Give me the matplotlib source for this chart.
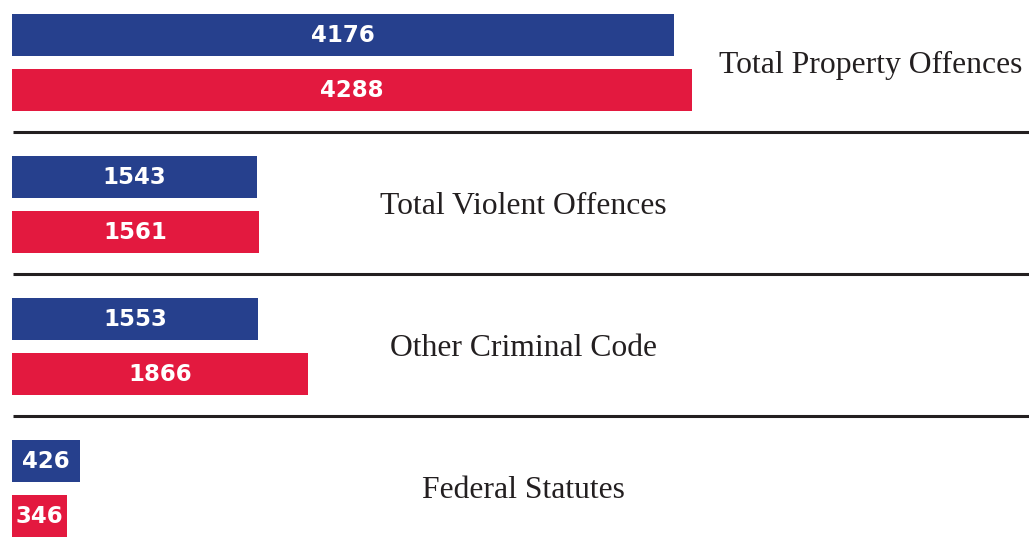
import matplotlib.pyplot as plt
from matplotlib.transforms import blended_transform_factory

categories = ["Total Property Offences", "Total Violent Offences",
              "Other Criminal Code", "Federal Statutes"]
blue_values = [4176, 1543, 1553, 426]
red_values = [4288, 1561, 1866, 346]

blue = "#26408d"
red = "#e3193f"

W, H = 1029, 546
fig = plt.figure(figsize=(W / 100, H / 100), dpi=100)
ax = fig.add_axes([0, 0, 1, 1])

# x scale: ~0.1585 px per unit, bars start at pixel 12
px_per_unit = 0.1585
x0_px = 12
ax.set_xlim(-x0_px / px_per_unit, (W - x0_px) / px_per_unit)
ax.set_ylim(H, 0)  # y in pixels, top down
ax.axis("off")

group_step = 142
first_center = 62
offset = 27.5
bar_h = 42
label_x_px = [871, 523, 523, 523]

trans = blended_transform_factory(ax.transAxes, ax.transData)
for i, cat in enumerate(categories):
    yc = first_center + group_step * i
    for val, col, dy in [(blue_values[i], blue, -offset), (red_values[i], red, offset)]:
        ax.barh(yc + dy, val, height=bar_h, color=col, left=0)
        ax.text(val / 2, yc + dy + 1, str(val), ha="center", va="center",
                color="white", fontsize=16.5, fontweight="heavy",
                family="DejaVu Sans")
    ax.text(label_x_px[i] / W, yc + 3, cat, transform=trans, ha="center", va="center",
            fontsize=22.8, color="#231f20", family="Liberation Serif")
    if i < len(categories) - 1:
        ax.plot([13 / W, 1.0], [yc + 70, yc + 70], transform=trans,
                color="#231f20", lw=2.2, solid_capstyle="butt")

fig.savefig("out.png", dpi=100)
